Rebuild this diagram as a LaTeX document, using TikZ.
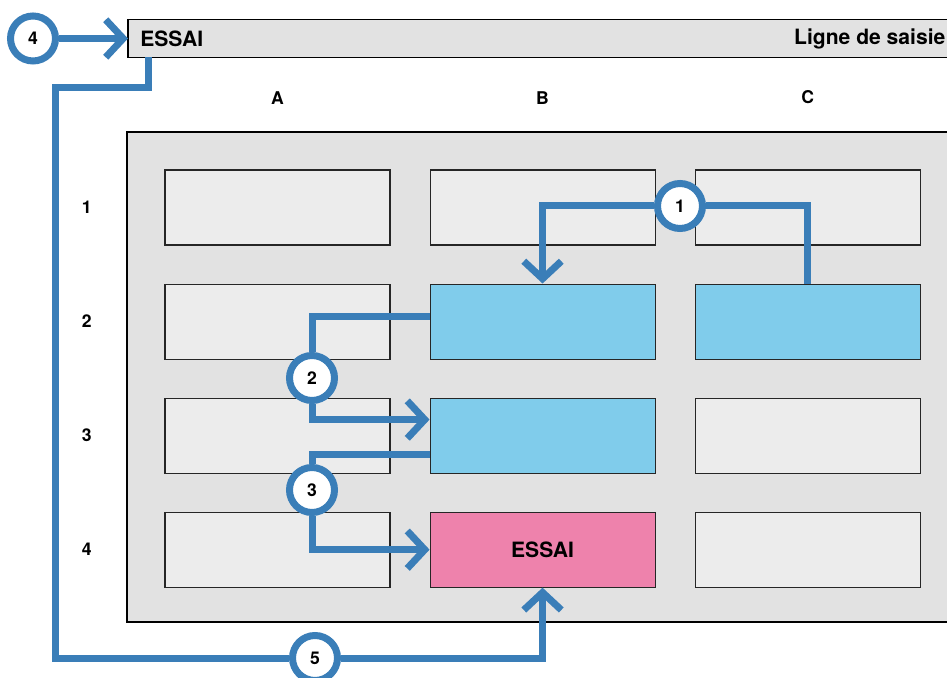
\documentclass[tikz,border=0pt]{standalone}
\usepackage{fontspec}
\setmainfont{TeX Gyre Heros}
\usepackage{tikz}
\usetikzlibrary{arrows.meta, positioning}
\usepackage{xcolor}
\definecolor{flowblue}{RGB}{58,126,184}
\definecolor{cellblue}{RGB}{128,204,235}
\definecolor{cellpink}{RGB}{238,130,172}
\definecolor{panelgray}{RGB}{226,226,226}
\definecolor{cellgray}{RGB}{236,236,236}

\begin{document}
\begin{tikzpicture}[
    node distance=0.76cm,
    cell/.style={rectangle, draw=black!85, line width=0.6pt, fill=cellgray, minimum width=4.5cm, minimum height=1.5cm},
    active/.style={cell, fill=cellblue},
    result/.style={cell, fill=cellpink, font=\bfseries\large},
    lab/.style={font=\bfseries, inner sep=0pt},
    num/.style={circle, draw=flowblue, line width=0.14cm, fill=white, minimum size=0.9cm, inner sep=0pt, font=\bfseries},
    flow/.style={draw=flowblue, line width=0.14cm},
    arrow/.style={flow, -{Straight Barb[length=3.5mm, width=7.5mm]}}
]
\useasboundingbox (0,0) rectangle (18.94,13.54);

% Sheet panel
\fill[panelgray] (2.54,1.1) rectangle (18.94,10.9);
\draw[line width=0.8pt] (18.94,10.9) -- (2.54,10.9) -- (2.54,1.1) -- (18.94,1.1);

% Input line
\node[rectangle, fill=panelgray, minimum width=16.38cm, minimum height=0.74cm, inner sep=0pt, anchor=west] (bar) at (2.56,12.77) {};
\draw[line width=0.9pt] (bar.north east) -- (bar.north west) -- (bar.south west) -- (bar.south east);
\node[lab, font=\bfseries\large, anchor=west] (entry) at ([xshift=2.4mm]bar.west) {ESSAI};
\node[lab, font=\bfseries\large, anchor=east] (title) at ([xshift=-0.4mm]bar.east) {Ligne de saisie};

% Cells, row by row
\node[cell] (a1) at (5.55,9.39) {};
\node[cell, right=0.78cm of a1] (b1) {};
\node[cell, right=0.78cm of b1] (c1) {};

\node[cell, below=of a1] (a2) {};
\node[active, below=of b1] (b2) {};
\node[active, below=of c1] (c2) {};

\node[cell, below=of a2] (a3) {};
\node[active, below=of b2] (b3) {};
\node[cell, below=of c2] (c3) {};

\node[cell, below=of a3] (a4) {};
\node[result, below=of b3] (b4) {ESSAI};
\node[cell, below=of c3] (c4) {};

% Column and row headings
\node[lab, above=1.3cm of a1] (colA) {A};
\node[lab, above=1.3cm of b1] (colB) {B};
\node[lab, above=1.3cm of c1] (colC) {C};
\node[lab, left=1.45cm of a1] (row1) {1};
\node[lab, left=1.45cm of a2] (row2) {2};
\node[lab, left=1.45cm of a3] (row3) {3};
\node[lab, left=1.45cm of a4] (row4) {4};

% Step markers
\node[num] (n1) at (13.6,9.42) {1};
\node[num] (n2) at (6.24,5.98) {2};
\node[num] (n3) at (6.24,3.74) {3};
\node[num] (n4) at (0.66,12.77) {4};
\node[num] (n5) at (6.3,0.38) {5};
\coordinate (k5) at (1.1,11.78);

% Copy C2 -> B2
\draw[flow] (c2.north) |- (n1);
\draw[arrow] (n1) -| (b2.north);

% Copy B2 -> B3
\draw[flow] ([yshift=1mm]b2.west) -| (n2);
\draw[arrow] (n2) |- ([yshift=3.2mm]b3.west);

% Copy B3 -> B4
\draw[flow] ([yshift=-3.8mm]b3.west) -| (n3);
\draw[arrow] (n3) |- (b4.west);

% Typed entry -> B4
\draw[arrow] (n4) -- (bar.west);
\draw[flow] ([xshift=4mm]bar.south west) |- (k5) |- (n5);
\draw[arrow] (n5) -| (b4.south);

\end{tikzpicture}
\end{document}
